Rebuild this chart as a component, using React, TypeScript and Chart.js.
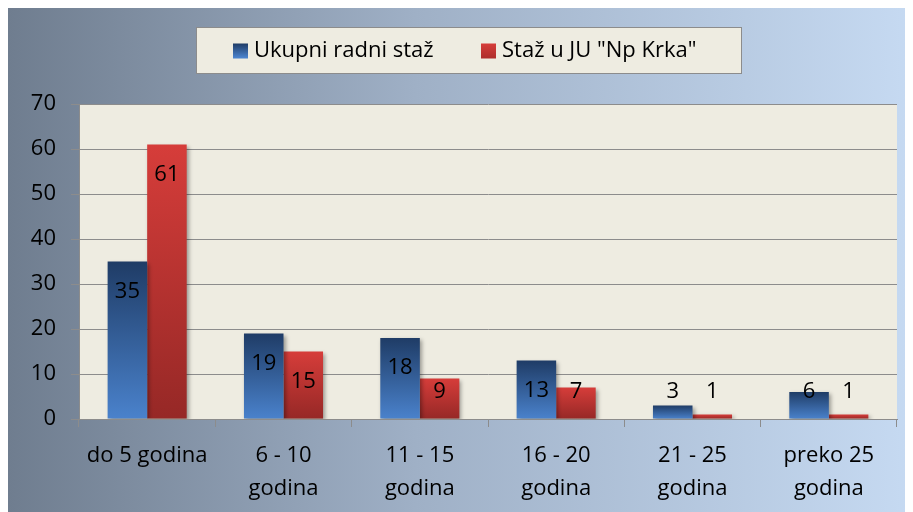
import React, { useEffect, useRef } from "react";
import { Chart, registerables } from "chart.js";

Chart.register(...registerables);

const categories: string[][] = [
  ["do 5 godina"],
  ["6 - 10", "godina"],
  ["11 - 15", "godina"],
  ["16 - 20", "godina"],
  ["21 - 25", "godina"],
  ["preko 25", "godina"],
];
const ukupniRadniStaz = [35, 19, 18, 13, 3, 6];
const stazUJuNpKrka = [61, 15, 9, 7, 1, 1];
const seriesNames = ["Ukupni radni staž", 'Staž u JU "Np Krka"'];
const yTicks = [0, 10, 20, 30, 40, 50, 60, 70];

const FONT = "'Open Sans', Lato, sans-serif";
const FS = 22;

const blueStops = ["#1f3c66", "#4a82cc"];
const redStops = ["#d63d3a", "#962826"];

function gradFor(stops: string[]) {
  return (ctx: any) => {
    const chart = ctx.chart;
    const y = chart.scales?.y;
    if (!chart.chartArea || !y || ctx.raw == null) return stops[0];
    const top = y.getPixelForValue(ctx.raw);
    const bottom = y.getPixelForValue(0);
    if (!isFinite(top) || !isFinite(bottom) || bottom - top < 1) return stops[1];
    const g = chart.ctx.createLinearGradient(0, top, 0, bottom);
    g.addColorStop(0, stops[0]);
    g.addColorStop(1, stops[1]);
    return g;
  };
}

const plotBgPlugin = {
  id: "plotBg",
  beforeDraw(chart: any) {
    const { ctx, chartArea } = chart;
    ctx.save();
    ctx.fillStyle = "#eeece1";
    ctx.fillRect(chartArea.left, chartArea.top, chartArea.right - chartArea.left, chartArea.bottom - chartArea.top);
    ctx.restore();
  },
};

const shadowPlugin = {
  id: "barShadow",
  beforeDatasetsDraw(chart: any) {
    const ctx = chart.ctx;
    ctx.save();
    ctx.shadowColor = "rgba(0,0,0,0.35)";
    ctx.shadowBlur = 4;
    ctx.shadowOffsetX = 2;
    ctx.shadowOffsetY = 2;
  },
  afterDatasetsDraw(chart: any) {
    chart.ctx.restore();
  },
};

const labelsPlugin = {
  id: "valueLabels",
  afterDatasetsDraw(chart: any) {
    const ctx = chart.ctx;
    ctx.save();
    ctx.font = `${FS}px ${FONT}`;
    ctx.fillStyle = "#000";
    ctx.textAlign = "center";
    ctx.textBaseline = "middle";
    chart.data.datasets.forEach((ds: any, di: number) => {
      const meta = chart.getDatasetMeta(di);
      meta.data.forEach((el: any, i: number) => {
        const y = Math.min(el.y + 30, el.base - 27);
        ctx.fillText(String(ds.data[i]), el.x, y);
      });
    });
    ctx.restore();
  },
};

const legendPlugin = {
  id: "boxLegend",
  afterDraw(chart: any) {
    const ctx = chart.ctx;
    const bx = 188, by = 19, bw = 546, bh = 47;
    ctx.save();
    ctx.fillStyle = "#eeece1";
    ctx.fillRect(bx, by, bw, bh);
    ctx.strokeStyle = "#8c8c8c";
    ctx.lineWidth = 1;
    ctx.strokeRect(bx + 0.5, by + 0.5, bw - 1, bh - 1);
    ctx.font = `${FS}px ${FONT}`;
    ctx.textBaseline = "middle";
    ctx.fillStyle = "#000";
    const items = [
      { x: 225, stops: blueStops, text: seriesNames[0] },
      { x: 473, stops: [redStops[0], "#b02f2d"], text: seriesNames[1] },
    ];
    const cy = by + bh / 2;
    items.forEach((it) => {
      const g = ctx.createLinearGradient(0, cy - 7, 0, cy + 7);
      g.addColorStop(0, it.stops[0]);
      g.addColorStop(1, it.stops[1]);
      ctx.fillStyle = g;
      ctx.fillRect(it.x, cy - 7, 15, 15);
      ctx.fillStyle = "#000";
      ctx.fillText(it.text, it.x + 21, cy);
    });
    ctx.restore();
  },
};

export default function App() {
  const ref = useRef<HTMLCanvasElement>(null);
  useEffect(() => {
    if (!ref.current) return;
    const chart = new Chart(ref.current, {
      type: "bar",
      data: {
        labels: categories,
        datasets: [
          {
            label: seriesNames[0],
            data: ukupniRadniStaz,
            backgroundColor: gradFor(blueStops),
            barPercentage: 1,
            categoryPercentage: 0.58,
          },
          {
            label: seriesNames[1],
            data: stazUJuNpKrka,
            backgroundColor: gradFor(redStops),
            barPercentage: 1,
            categoryPercentage: 0.58,
          },
        ],
      },
      options: {
        responsive: false,
        animation: false,
        layout: { padding: { top: 96, right: 16, left: 0, bottom: 0 } },
        plugins: { legend: { display: false }, tooltip: { enabled: false } },
        scales: {
          x: {
            grid: {
              offset: true,
              drawOnChartArea: false,
              color: "#8c8c8c",
              tickLength: 8,
            },
            border: { color: "#8c8c8c" },
            ticks: {
              color: "#000",
              font: { family: FONT, size: FS, lineHeight: 1.5 },
              padding: 12,
              maxRotation: 0,
              autoSkip: false,
            },
            afterFit(scale: any) {
              scale.height = 93;
            },
          },
          y: {
            min: 0,
            max: 70,
            afterBuildTicks(scale: any) {
              scale.ticks = yTicks.map((v) => ({ value: v }));
            },
            grid: { color: "#8c8c8c", tickLength: 8 },
            border: { color: "#8c8c8c" },
            ticks: {
              color: "#000",
              font: { family: FONT, size: FS },
              padding: 15,
            },
            afterFit(scale: any) {
              scale.width = 71;
            },
          },
        },
      },
      plugins: [plotBgPlugin, shadowPlugin, labelsPlugin, legendPlugin],
    });
    return () => chart.destroy();
  }, []);

  return (
    <div
      style={{
        width: 905,
        height: 504,
        background: "linear-gradient(to right, #6f7d8f 0%, #9fb0c6 45%, #c6daf2 100%)",
      }}
    >
      <canvas ref={ref} width={905} height={504} style={{ display: "block" }} />
    </div>
  );
}
